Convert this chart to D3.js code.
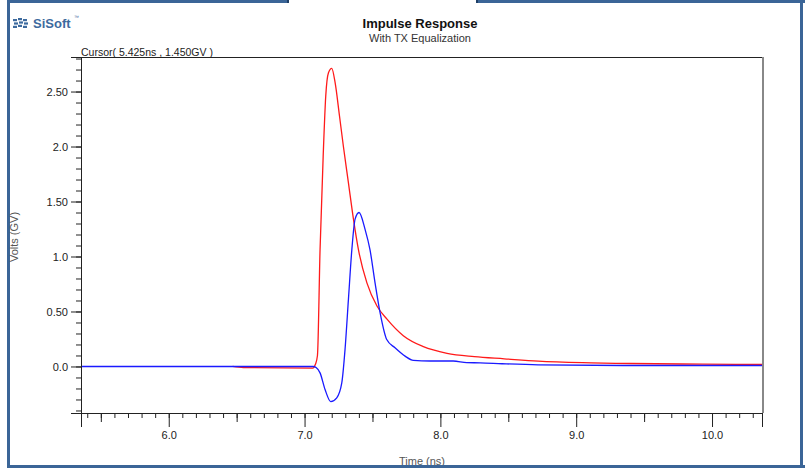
<!DOCTYPE html>
<html>
<head>
<meta charset="utf-8">
<script src="https://cdn.jsdelivr.net/npm/d3@7"></script>
<style>
  html, body { margin: 0; padding: 0; background: #fff; }
  svg { display: block; font-family: "Liberation Sans", Arial, sans-serif; }
</style>
</head>
<body>
<svg id="chart" width="805" height="468"></svg>
<script>
// ---- data ----
const redTime  = [6.47, 6.55, 7.06, 7.08, 7.095, 7.114, 7.137, 7.156, 7.176, 7.20, 7.225, 7.257, 7.286, 7.323, 7.36, 7.397, 7.459, 7.533, 7.607, 7.727, 7.875, 8.049, 8.25, 8.47, 8.72, 9.11, 9.40, 9.93, 10.368];
const redVolts = [0.0, -0.01, -0.015, 0.02, 0.10, 1.06, 1.91, 2.46, 2.67, 2.71, 2.58, 2.28, 2.00, 1.67, 1.34, 1.06, 0.76, 0.55, 0.43, 0.28, 0.18, 0.12, 0.09, 0.07, 0.048, 0.033, 0.027, 0.021, 0.018];

const blueTime  = [5.354, 7.063, 7.085, 7.114, 7.151, 7.193, 7.237, 7.274, 7.298, 7.323, 7.348, 7.372, 7.401, 7.446, 7.482, 7.519, 7.556, 7.605, 7.666, 7.740, 7.801, 7.924, 8.094, 8.194, 8.292, 8.454, 8.719, 9.345, 10.368];
const blueVolts = [0.0, 0.0, -0.01, -0.058, -0.21, -0.32, -0.285, -0.15, 0.155, 0.61, 1.06, 1.34, 1.40, 1.245, 1.06, 0.76, 0.49, 0.245, 0.17, 0.094, 0.055, 0.05, 0.05, 0.035, 0.033, 0.025, 0.015, 0.009, 0.009];

const xMajorTicks  = [6, 7, 8, 9, 10];
const xMajorLabels = ["6.0", "7.0", "8.0", "9.0", "10.0"];
const xMidTicks    = [5.5, 6.5, 7.5, 8.5, 9.5];
const yMajorTicks  = [2.5, 2.0, 1.5, 1.0, 0.5, 0.0];
const yMajorLabels = ["2.50", "2.0", "1.50", "1.0", "0.50", "0.0"];

const titleText    = "Impulse Response";
const subtitleText = "With TX Equalization";
const cursorText   = "Cursor( 5.425ns , 1.450GV )";
const xAxisTitle   = "Time (ns)";
const yAxisTitle   = "Volts (GV)";

// ---- layout ----
const svg = d3.select("#chart");
const L = 81, R = 762, T = 57, B = 413;
const x = d3.scaleLinear().domain([5.354, 10.368]).range([L, R]);
const y = d3.scaleLinear().domain([-0.423, 2.814]).range([B, T]);

// outer frame (steel blue)
const frameCol = "#3b6597";
svg.append("rect").attr("x", 7).attr("y", 0).attr("width", 282).attr("height", 3).attr("fill", frameCol);
svg.append("rect").attr("x", 477).attr("y", 0).attr("width", 328).attr("height", 3).attr("fill", frameCol);
svg.append("rect").attr("x", 287).attr("y", 0).attr("width", 2).attr("height", 3).attr("fill", "#1f3f66");
svg.append("rect").attr("x", 476).attr("y", 0).attr("width", 2).attr("height", 3).attr("fill", "#1f3f66");
svg.append("rect").attr("x", 7).attr("y", 0).attr("width", 3).attr("height", 468).attr("fill", frameCol);
svg.append("rect").attr("x", 800).attr("y", 0).attr("width", 3).attr("height", 468).attr("fill", frameCol);

// logo
const logo = svg.append("g").attr("fill", "#3d6a9e");
[[13,19],[18,18],[23,19]].forEach(([lx, ly]) => {
  for (let k = 0; k < 3; k++) {
    logo.append("rect").attr("x", lx + (k % 2)).attr("y", ly + k * 3.4).attr("width", 4).attr("height", 2.2);
  }
});
logo.append("text").attr("x", 33).attr("y", 28).attr("font-size", 13).attr("font-weight", "bold").text("SiSoft");
logo.append("text").attr("x", 74).attr("y", 19).attr("font-size", 5).text("™");

// titles
svg.append("text").attr("x", 420).attr("y", 28).attr("text-anchor", "middle")
  .attr("font-size", 13).attr("font-weight", "bold").attr("fill", "#111").text(titleText);
svg.append("text").attr("x", 420).attr("y", 42).attr("text-anchor", "middle")
  .attr("font-size", 11).attr("fill", "#333").text(subtitleText);
svg.append("text").attr("x", 81).attr("y", 56).attr("font-size", 10.5).attr("fill", "#222").text(cursorText);

// plot box: top (black) and right (grey)
svg.append("line").attr("x1", L).attr("x2", R + 1).attr("y1", T + 0.5).attr("y2", T + 0.5).attr("stroke", "#222");
svg.append("line").attr("x1", R + 1).attr("x2", R + 1).attr("y1", T).attr("y2", B).attr("stroke", "#888").attr("stroke-width", 2);

// y axis
const yMinor = d3.range(-4, 29).map(i => i / 10);
const yAxMinor = svg.append("g").attr("transform", `translate(${L},0)`)
  .call(d3.axisLeft(y).tickValues(yMinor).tickSize(5).tickFormat(""));
const yAx = svg.append("g").attr("transform", `translate(${L},0)`)
  .call(d3.axisLeft(y).tickValues(yMajorTicks).tickSize(10).tickPadding(3)
    .tickFormat((d, i) => yMajorLabels[i]));
[yAxMinor, yAx].forEach(g => {
  g.select(".domain").attr("stroke", "#222");
  g.selectAll(".tick line").attr("stroke", "#222");
});
yAx.selectAll("text").attr("font-size", 11).attr("fill", "#222").attr("font-family", "Liberation Sans, Arial, sans-serif");

// x axis
const xMinor = d3.range(54, 104).map(i => i / 10);
const xAxMinor = svg.append("g").attr("transform", `translate(0,${B})`)
  .call(d3.axisBottom(x).tickValues(xMinor).tickSize(5).tickFormat(""));
const xAxMid = svg.append("g").attr("transform", `translate(0,${B})`)
  .call(d3.axisBottom(x).tickValues(xMidTicks).tickSize(9).tickFormat(""));
const xAx = svg.append("g").attr("transform", `translate(0,${B})`)
  .call(d3.axisBottom(x).tickValues(xMajorTicks).tickSize(14).tickPadding(4)
    .tickFormat((d, i) => xMajorLabels[i]));
[xAxMinor, xAxMid, xAx].forEach(g => {
  g.select(".domain").attr("stroke", "#222");
  g.selectAll(".tick line").attr("stroke", "#222");
});
xAx.selectAll("text").attr("font-size", 11).attr("fill", "#222").attr("font-family", "Liberation Sans, Arial, sans-serif");

// axis titles
svg.append("text").attr("transform", "translate(18,237) rotate(-90)").attr("text-anchor", "middle")
  .attr("font-size", 11).attr("fill", "#555").text(yAxisTitle);
svg.append("text").attr("x", 422).attr("y", 465).attr("text-anchor", "middle")
  .attr("font-size", 11).attr("fill", "#555").text(xAxisTitle);

// curves
const clip = svg.append("clipPath").attr("id", "plotclip").append("rect")
  .attr("x", L + 1).attr("y", T).attr("width", R - L).attr("height", B - T);
const line = d3.line().x(d => x(d[0])).y(d => y(d[1])).curveMonotoneX;
const lineGen = d3.line().x(d => x(d[0])).y(d => y(d[1])).curve(d3.curveMonotoneX);
const plot = svg.append("g").attr("clip-path", "url(#plotclip)");
plot.append("path").datum(d3.zip(redTime, redVolts)).attr("d", lineGen)
  .attr("fill", "none").attr("stroke", "#ff1a1a").attr("stroke-width", 1.3);
plot.append("path").datum(d3.zip(blueTime, blueVolts)).attr("d", lineGen)
  .attr("fill", "none").attr("stroke", "#1a1aff").attr("stroke-width", 1.3);

// bottom frame drawn on top
svg.append("rect").attr("x", 7).attr("y", 465).attr("width", 798).attr("height", 3).attr("fill", frameCol);
</script>
</body>
</html>
